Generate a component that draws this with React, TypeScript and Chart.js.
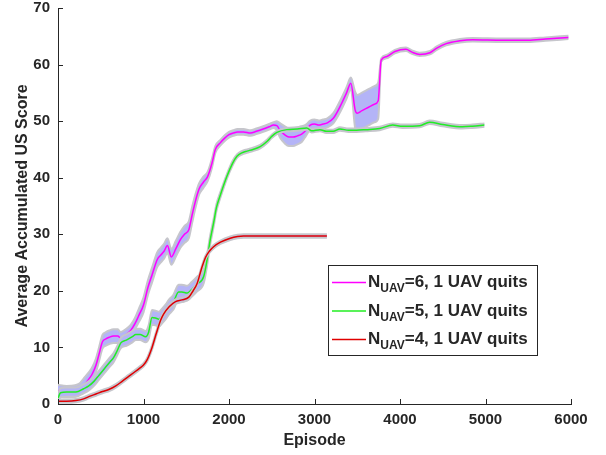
import React, { useEffect, useRef } from "react";
import { Chart, registerables } from "chart.js";

Chart.register(...registerables);

// ---------- data ----------
const xTickValues = [0, 1000, 2000, 3000, 4000, 5000, 6000];
const yTickValues = [0, 10, 20, 30, 40, 50, 60, 70];

const legendLabels = ["=6, 1 UAV quits", "=5, 1 UAV quits", "=4, 1 UAV quits"];

// N_UAV = 6
const episodes6 = [0, 30, 100, 200, 250, 300, 360, 400, 443, 480, 520, 560, 600, 650, 700, 730, 800, 850, 900, 950, 1000, 1050, 1100, 1160, 1200, 1240, 1280, 1325, 1380, 1430, 1480, 1530, 1570, 1610, 1650, 1700, 1750, 1800, 1840, 1900, 1950, 2000, 2050, 2100, 2170, 2250, 2320, 2400, 2470, 2520, 2560, 2600, 2650, 2700, 2750, 2800, 2850, 2900, 2950, 3000, 3050, 3100, 3150, 3220, 3300, 3375, 3425, 3475, 3500, 3550, 3600, 3650, 3700, 3745, 3780, 3840, 3940, 4070, 4140, 4230, 4350, 4430, 4540, 4700, 4850, 5200, 5500, 5700, 5970];
const score6 = [2.4, 2.3, 2.2, 2.3, 2.6, 3.3, 4.4, 5.3, 6.8, 8.8, 11.0, 11.5, 11.8, 12.0, 12.0, 11.7, 12.3, 13.0, 14.2, 15.8, 17.5, 20.5, 22.8, 25.5, 26.3, 27.0, 28.0, 26.0, 27.5, 29.0, 30.0, 30.8, 33.5, 36.0, 38.0, 39.2, 40.2, 42.5, 45.0, 46.2, 47.0, 47.6, 47.9, 48.1, 48.1, 47.9, 48.2, 48.6, 49.0, 49.3, 49.2, 48.3, 47.6, 47.2, 47.2, 47.4, 47.7, 48.4, 49.3, 49.5, 49.3, 49.5, 49.7, 50.5, 52.6, 55.0, 56.7, 52.0, 51.4, 51.8, 52.2, 52.6, 53.0, 53.6, 60.8, 61.4, 62.3, 62.7, 62.2, 61.8, 62.1, 62.9, 63.7, 64.2, 64.4, 64.3, 64.3, 64.5, 64.8];
const spread6 = [1.0, 1.0, 1.0, 1.0, 1.0, 1.2, 1.2, 1.2, 1.2, 1.2, 1.2, 1.2, 1.2, 1.2, 1.2, 1.0, 1.0, 1.0, 1.0, 1.2, 1.3, 1.3, 1.3, 1.3, 1.3, 1.3, 1.3, 1.4, 1.4, 1.4, 1.5, 1.5, 1.4, 1.2, 1.0, 1.0, 0.8, 0.8, 0.6, 0.5, 0.5, 0.5, 0.5, 0.5, 0.5, 0.5, 0.5, 0.5, 0.5, 0.5, 0.8, 1.3, 1.5, 1.6, 1.6, 1.5, 1.4, 1.0, 0.8, 0.8, 0.8, 0.8, 0.8, 0.9, 1.0, 1.0, 1.0, 3.2, 3.2, 3.2, 3.2, 3.2, 3.2, 3.2, 0.3, 0.3, 0.3, 0.3, 0.3, 0.3, 0.3, 0.3, 0.3, 0.3, 0.3, 0.3, 0.3, 0.3, 0.3];

// N_UAV = 5
const episodes5 = [0, 30, 100, 210, 300, 360, 420, 480, 540, 600, 650, 695, 735, 800, 870, 910, 960, 1025, 1060, 1100, 1140, 1180, 1220, 1260, 1300, 1350, 1410, 1450, 1510, 1560, 1627, 1705, 1745, 1780, 1820, 1853, 1900, 1977, 2040, 2093, 2150, 2210, 2280, 2365, 2450, 2500, 2560, 2676, 2800, 2909, 2967, 3064, 3140, 3218, 3297, 3400, 3490, 3600, 3763, 3915, 4030, 4230, 4346, 4500, 4730, 4847, 4987];
const score5 = [1.0, 2.0, 2.1, 2.1, 2.7, 3.2, 4.0, 5.1, 6.2, 7.3, 8.2, 9.5, 10.8, 11.3, 11.9, 12.3, 12.3, 11.9, 12.7, 15.3, 15.2, 15.0, 15.6, 16.3, 17.2, 18.0, 19.8, 19.8, 19.6, 20.2, 21.2, 22.6, 25.6, 29.0, 32.0, 34.7, 37.0, 40.3, 42.5, 43.8, 44.4, 44.7, 45.0, 45.5, 46.5, 47.3, 48.0, 48.5, 48.6, 48.8, 48.3, 48.5, 48.2, 48.2, 48.6, 48.4, 48.4, 48.5, 48.7, 49.3, 49.1, 49.2, 49.8, 49.4, 49.0, 49.1, 49.3];
const spread5 = [0.8, 0.8, 0.8, 0.8, 0.8, 0.8, 0.8, 0.8, 0.8, 0.8, 0.8, 0.8, 0.9, 1.0, 1.0, 1.0, 1.0, 1.0, 1.2, 1.3, 1.3, 1.3, 1.3, 1.3, 1.3, 1.3, 1.3, 1.3, 1.3, 1.3, 1.3, 1.2, 1.0, 0.8, 0.7, 0.6, 0.5, 0.4, 0.4, 0.3, 0.3, 0.3, 0.3, 0.3, 0.3, 0.3, 0.3, 0.3, 0.3, 0.3, 0.3, 0.3, 0.3, 0.3, 0.3, 0.3, 0.3, 0.3, 0.3, 0.3, 0.3, 0.3, 0.3, 0.3, 0.3, 0.3, 0.3];

// N_UAV = 4
const episodes4 = [0, 100, 210, 300, 360, 450, 520, 600, 676, 750, 820, 900, 960, 1000, 1045, 1100, 1150, 1200, 1235, 1300, 1375, 1450, 1530, 1580, 1627, 1680, 1725, 1770, 1820, 1900, 2015, 2100, 2170, 2500, 3145];
const score4 = [0.5, 0.5, 0.6, 0.9, 1.3, 1.8, 2.2, 2.6, 3.2, 4.0, 4.8, 5.7, 6.4, 6.9, 7.9, 10.0, 12.5, 14.8, 15.9, 17.2, 18.1, 18.4, 18.9, 20.0, 21.3, 24.0, 25.9, 27.0, 27.8, 28.6, 29.3, 29.6, 29.7, 29.7, 29.7];
const spread4 = [0.3, 0.3, 0.3, 0.3, 0.3, 0.3, 0.3, 0.3, 0.3, 0.3, 0.3, 0.3, 0.3, 0.3, 0.35, 0.4, 0.4, 0.4, 0.4, 0.4, 0.4, 0.4, 0.4, 0.4, 0.35, 0.3, 0.3, 0.3, 0.3, 0.3, 0.3, 0.3, 0.3, 0.3, 0.3];

const lineColors = ["#ff00ff", "#22ee22", "#e00000"];

// ---------- styles ----------
const TEXT = "#262626";
const FONT = '"Liberation Sans", Arial, Helvetica, sans-serif';
const BAND_FILL = "#b4b4f7";
const BAND_EDGE = "#c6c6cc";

function pts(xs: number[], ys: number[]) {
  return xs.map((x, i) => ({ x, y: ys[i] }));
}

function seriesDatasets(xs: number[], ys: number[], sd: number[], color: string, baseOrder: number) {
  const upper = ys.map((v, i) => v + sd[i]);
  const lower = ys.map((v, i) => v - sd[i]);
  return [
    {
      data: pts(xs, upper),
      borderColor: BAND_EDGE,
      borderWidth: 2,
      pointRadius: 0,
      fill: false,
      order: baseOrder + 1,
    },
    {
      data: pts(xs, lower),
      borderColor: BAND_EDGE,
      borderWidth: 2,
      pointRadius: 0,
      backgroundColor: BAND_FILL,
      fill: "-1",
      order: baseOrder + 2,
    },
    {
      data: pts(xs, ys),
      borderColor: color,
      borderWidth: 1.5,
      pointRadius: 0,
      fill: false,
      order: baseOrder,
    },
  ];
}

const axisDecor = {
  id: "axisDecor",
  afterDraw(chart: any) {
    const { ctx, chartArea, scales } = chart;
    const xs = scales.x;
    const ys = scales.y;
    ctx.save();
    ctx.strokeStyle = TEXT;
    ctx.lineWidth = 1;
    ctx.beginPath();
    xTickValues.forEach((v) => {
      const px = Math.round(xs.getPixelForValue(v)) + 0.5;
      ctx.moveTo(px, chartArea.bottom);
      ctx.lineTo(px, chartArea.bottom - 5);
    });
    yTickValues.forEach((v) => {
      const py = Math.round(ys.getPixelForValue(v)) + 0.5;
      ctx.moveTo(chartArea.left, py);
      ctx.lineTo(chartArea.left + 5, py);
    });
    ctx.stroke();

    // legend
    const bx = 328.5, by = 265.5, bw = 209, bh = 90;
    ctx.fillStyle = "#ffffff";
    ctx.fillRect(bx, by, bw, bh);
    ctx.strokeStyle = TEXT;
    ctx.strokeRect(bx, by, bw, bh);
    legendLabels.forEach((lab, i) => {
      const base = by + 21.5 + i * 28.5;
      ctx.strokeStyle = lineColors[i];
      ctx.lineWidth = 1.5;
      ctx.beginPath();
      ctx.moveTo(332, base - 4.5);
      ctx.lineTo(366, base - 4.5);
      ctx.stroke();
      ctx.fillStyle = TEXT;
      ctx.textBaseline = "alphabetic";
      ctx.textAlign = "left";
      let x = 368;
      ctx.font = `bold 17px ${FONT}`;
      ctx.fillText("N", x, base);
      x += ctx.measureText("N").width;
      ctx.font = `bold 12px ${FONT}`;
      ctx.fillText("UAV", x, base + 5);
      x += ctx.measureText("UAV").width;
      ctx.font = `bold 17px ${FONT}`;
      ctx.fillText(lab, x, base);
    });
    ctx.restore();
  },
};

export default function App() {
  const ref = useRef<HTMLCanvasElement | null>(null);

  useEffect(() => {
    if (!ref.current) return;
    const datasets = [
      ...seriesDatasets(episodes6, score6, spread6, lineColors[0], 7),
      ...seriesDatasets(episodes5, score5, spread5, lineColors[1], 4),
      ...seriesDatasets(episodes4, score4, spread4, lineColors[2], 1),
    ];
    const chart = new Chart(ref.current, {
      type: "line",
      data: { datasets: datasets as any },
      options: {
        animation: false,
        responsive: false,
        devicePixelRatio: 1,
        layout: { padding: { left: 0, right: 35, top: 8, bottom: 0 } },
        elements: { line: { tension: 0.4, cubicInterpolationMode: "monotone" } },
        plugins: {
          legend: { display: false },
          tooltip: { enabled: false },
          filler: { propagate: false },
        },
        scales: {
          x: {
            type: "linear",
            min: 0,
            max: 6000,
            grid: { display: false, drawTicks: true, tickLength: 8 },
            border: { display: true, color: TEXT, width: 1 },
            afterBuildTicks: (s: any) => {
              s.ticks = xTickValues.map((v) => ({ value: v }));
            },
            afterFit: (s: any) => {
              s.height = 51;
            },
            ticks: {
              color: TEXT,
              padding: 0,
              maxRotation: 0,
              autoSkip: false,
              font: { family: FONT, size: 15, weight: "bold", lineHeight: 1 },
              callback: (v: any) => String(v),
            },
            title: {
              display: true,
              text: "Episode",
              color: TEXT,
              font: { family: FONT, size: 16, weight: "bold" },
              padding: { top: 0, bottom: 5 },
            },
          },
          y: {
            type: "linear",
            min: 0,
            max: 70,
            grid: { display: false, drawTicks: true, tickLength: 8 },
            border: { display: true, color: TEXT, width: 1 },
            afterBuildTicks: (s: any) => {
              s.ticks = yTickValues.map((v) => ({ value: v }));
            },
            afterFit: (s: any) => {
              s.width = 58;
            },
            ticks: {
              color: TEXT,
              padding: 0,
              autoSkip: false,
              font: { family: FONT, size: 15, weight: "bold", lineHeight: 1 },
              callback: (v: any) => String(v),
            },
            title: {
              display: true,
              text: "Average Accumulated US Score",
              color: TEXT,
              font: { family: FONT, size: 16, weight: "bold" },
              padding: { top: 13, bottom: 0 },
            },
          },
        },
      },
      plugins: [axisDecor],
    });
    return () => chart.destroy();
  }, []);

  return (
    <div style={{ position: "fixed", left: 0, top: 0, width: 606, height: 455, background: "#fff" }}>
      <canvas ref={ref} width={606} height={455} style={{ display: "block", width: 606, height: 455 }} />
    </div>
  );
}
